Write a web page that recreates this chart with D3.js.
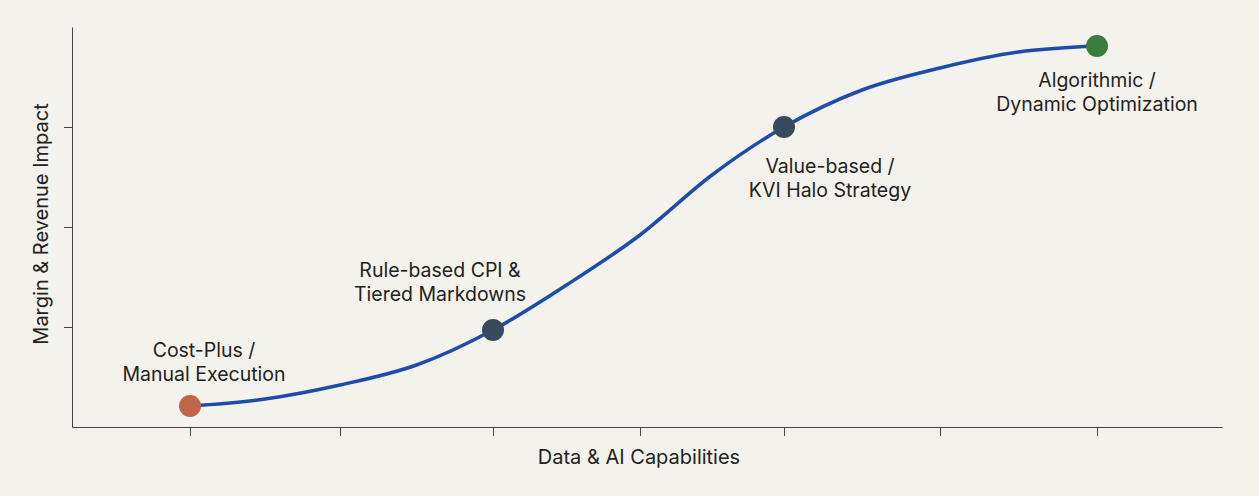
<!DOCTYPE html>
<html><head><meta charset="utf-8">
<script src="https://cdn.jsdelivr.net/npm/d3@7"></script>
<style>body{margin:0;background:#f4f2ec}text{font-family:"Inter","Noto Sans",sans-serif}</style>
</head><body><svg id="c" width="1259" height="496"></svg>
<script>
const curveX = [0,0.5,1,1.5,2,2.5,3,3.5,4,4.5,5,5.5,6];
const curveY = [0.21,0.28,0.42,0.62,0.97,1.42,1.92,2.52,3.0,3.37,3.59,3.75,3.81];
const stageX = [0,2,4,6];
const stageY = [0.21,0.97,3.0,3.81];
const stageColors = ["#c2664b","#374a5e","#374a5e","#3b7d40"];
const stageLabels = [["Cost-Plus /","Manual Execution"],["Rule-based CPI &","Tiered Markdowns"],["Value-based /","KVI Halo Strategy"],["Algorithmic /","Dynamic Optimization"]];
const labelOffsets = [[14,-49],[-53,-53],[46,46],[0,41]];
const xTicks=[0,1,2,3,4,5,6], yTicks=[1,2,3];
const svg=d3.select("#c");
const x=d3.scaleLinear().domain([-0.78,0,1,2,3,4,5,6,6.8]).range([72,190,340,493,640,784,940,1097,1222]);
const y=d3.scaleLinear().domain([0,4]).range([427,27]);
svg.append("g").attr("transform","translate(0,427)").call(d3.axisBottom(x).tickValues(xTicks).tickSize(9).tickSizeOuter(0).tickFormat("")).call(g=>g.selectAll("path,line").attr("stroke","#444"));
svg.append("g").attr("transform","translate(72,0)").call(d3.axisLeft(y).tickValues(yTicks).tickSize(8).tickSizeOuter(0).tickFormat("")).call(g=>g.selectAll("path,line").attr("stroke","#444"));
svg.append("text").attr("x",639).attr("y",464).attr("text-anchor","middle").attr("font-size",20).attr("fill","#222").text("Data & AI Capabilities");
svg.append("text").attr("transform","translate(48,224) rotate(-90)").attr("text-anchor","middle").attr("font-size",20).attr("fill","#222").text("Margin & Revenue Impact");
const line=d3.line().x((d,i)=>x(curveX[i])).y(d=>y(d)).curve(d3.curveMonotoneX);
svg.append("path").attr("d",line(curveY)).attr("fill","none").attr("stroke","#1d4cab").attr("stroke-width",3.5);
stageX.forEach((v,i)=>{
  svg.append("circle").attr("cx",x(v)).attr("cy",y(stageY[i])).attr("r",11).attr("fill",stageColors[i]);
  const t=svg.append("text").attr("text-anchor","middle").attr("font-size",19.5).attr("fill","#222");
  stageLabels[i].forEach((s,j)=>t.append("tspan").attr("x",x(v)+labelOffsets[i][0]).attr("y",y(stageY[i])+labelOffsets[i][1]+j*24).text(s));
});
</script></body></html>
